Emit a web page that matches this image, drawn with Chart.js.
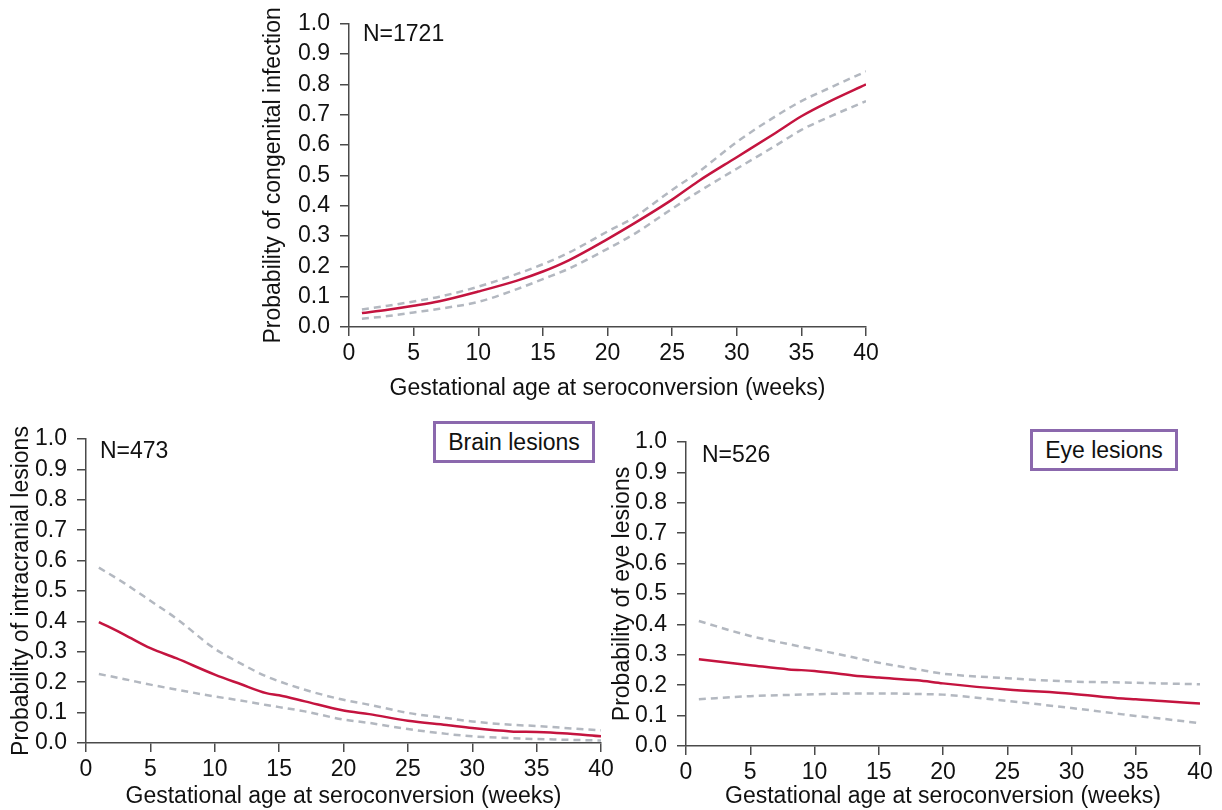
<!DOCTYPE html>
<html>
<head>
<meta charset="utf-8">
<script src="https://cdn.jsdelivr.net/npm/chart.js@4/dist/chart.umd.min.js"></script>
<style>
  body { margin: 0; background: #fff; width: 1222px; height: 810px; position: relative; overflow: hidden; font-family: "Liberation Sans", Arial, sans-serif; }
  canvas { position: absolute; }
  .nlab { position: absolute; font-size: 23px; line-height: 23px; color: #111; }
  .box { position: absolute; box-sizing: border-box; border: 3px solid #8b68ad; font-size: 23px; color: #111;
         display: flex; align-items: center; justify-content: center; background: #fff; }
</style>
</head>
<body>
<canvas id="top" width="640" height="410" style="left:250px;top:0px"></canvas>
<canvas id="brain" width="625" height="395" style="left:0px;top:415px"></canvas>
<canvas id="eye" width="622" height="395" style="left:600px;top:415px"></canvas>

<div class="nlab" style="left:363px;top:22px">N=1721</div>
<div class="nlab" style="left:100px;top:439px">N=473</div>
<div class="nlab" style="left:702px;top:443px">N=526</div>
<div class="box" style="left:433px;top:421px;width:162px;height:42px">Brain lesions</div>
<div class="box" style="left:1030px;top:429px;width:148px;height:42px">Eye lesions</div>

<script>
// congenital infection (top)
const infWeeks = [1, 3, 5, 7, 10, 13, 15, 17, 20, 22, 25, 27, 30, 33, 35, 37, 40];
const infFit   = [0.046, 0.057, 0.070, 0.085, 0.117, 0.153, 0.183, 0.220, 0.290, 0.340, 0.420, 0.480, 0.560, 0.640, 0.695, 0.740, 0.800];
const infUpper = [0.058, 0.070, 0.084, 0.100, 0.133, 0.175, 0.207, 0.245, 0.315, 0.360, 0.452, 0.510, 0.610, 0.695, 0.745, 0.785, 0.843];
const infLower = [0.027, 0.036, 0.048, 0.060, 0.083, 0.125, 0.158, 0.192, 0.258, 0.305, 0.390, 0.445, 0.522, 0.598, 0.650, 0.690, 0.745];

// brain lesions (bottom left)
const brainWeeks = [1, 3, 5, 7, 10, 12, 14, 15, 17, 20, 22, 25, 28, 30, 33, 35, 37, 40];
const brainFit   = [0.398, 0.356, 0.312, 0.279, 0.225, 0.194, 0.164, 0.157, 0.137, 0.107, 0.095, 0.073, 0.059, 0.049, 0.038, 0.036, 0.032, 0.022];
const brainUpper = [0.577, 0.525, 0.468, 0.410, 0.310, 0.262, 0.219, 0.203, 0.175, 0.142, 0.126, 0.099, 0.082, 0.071, 0.060, 0.056, 0.050, 0.042];
const brainLower = [0.227, 0.210, 0.192, 0.176, 0.153, 0.140, 0.125, 0.118, 0.104, 0.077, 0.066, 0.046, 0.030, 0.022, 0.016, 0.013, 0.011, 0.008];

// eye lesions (bottom right)
const eyeWeeks = [1, 5, 8, 10, 13, 15, 18, 20, 25, 30, 34, 35, 37, 40];
const eyeFit   = [0.285, 0.266, 0.252, 0.247, 0.232, 0.225, 0.216, 0.206, 0.186, 0.172, 0.156, 0.154, 0.148, 0.140];
const eyeUpper = [0.411, 0.362, 0.335, 0.318, 0.292, 0.274, 0.252, 0.238, 0.223, 0.212, 0.209, 0.208, 0.206, 0.203];
const eyeLower = [0.154, 0.164, 0.168, 0.170, 0.173, 0.173, 0.171, 0.169, 0.148, 0.125, 0.104, 0.099, 0.090, 0.075];

const xTicks = [0, 5, 10, 15, 20, 25, 30, 35, 40];
const yTicks = [0, 0.1, 0.2, 0.3, 0.4, 0.5, 0.6, 0.7, 0.8, 0.9, 1.0];
const xTitle = 'Gestational age at seroconversion (weeks)';

const FONT = '"Liberation Sans", Arial, sans-serif';
const RED = '#c4143f';
const GREY = '#b3b8c0';
const AXIS = '#4a4a4a';

function pts(xs, ys) {
  return xs.map((x, i) => ({ x: x, y: ys[i] }));
}

function makeChart(id, weeks, fit, upper, lower, yTitle, g) {
  const ctx = document.getElementById(id).getContext('2d');
  const dashed = (data) => ({
    data: pts(weeks, data),
    borderColor: GREY,
    borderWidth: 2.5,
    borderDash: [7, 5],
    pointRadius: 0,
    cubicInterpolationMode: 'monotone',
    fill: false
  });
  return new Chart(ctx, {
    type: 'line',
    data: {
      datasets: [
        dashed(upper),
        dashed(lower),
        {
          data: pts(weeks, fit),
          borderColor: RED,
          borderWidth: 2.5,
          pointRadius: 0,
          cubicInterpolationMode: 'monotone',
          fill: false
        }
      ]
    },
    options: {
      responsive: false,
      animation: false,
      layout: { padding: { top: g.top, right: g.right, left: 0, bottom: 0 } },
      plugins: { legend: { display: false }, tooltip: { enabled: false } },
      scales: {
        x: {
          type: 'linear',
          min: 0,
          max: 40,
          afterBuildTicks: (s) => { s.ticks = xTicks.map(v => ({ value: v })); },
          afterFit: (s) => { s.height = g.xh; },
          border: { display: true, color: AXIS, width: 1.5 },
          grid: { drawOnChartArea: false, drawTicks: true, tickLength: 9, color: AXIS, lineWidth: 1.5 },
          ticks: { color: '#111', font: { family: FONT, size: 23 }, padding: 4, maxRotation: 0, autoSkip: false },
          title: { display: true, text: xTitle, color: '#111', font: { family: FONT, size: 23 }, padding: { top: 0, bottom: g.xtp } }
        },
        y: {
          min: 0,
          max: 1,
          afterBuildTicks: (s) => { s.ticks = yTicks.map(v => ({ value: v })); },
          afterFit: (s) => { s.width = g.yw; },
          border: { display: true, color: AXIS, width: 1.5 },
          grid: { drawOnChartArea: false, drawTicks: true, tickLength: 9, color: AXIS, lineWidth: 1.5 },
          ticks: { color: '#111', font: { family: FONT, size: 23 }, padding: 10, autoSkip: false,
                   callback: (v) => v.toFixed(1) },
          title: { display: true, text: yTitle, color: '#111', font: { family: FONT, size: 23 }, padding: { top: g.ytp, bottom: 0 } }
        }
      }
    }
  });
}

makeChart('top', infWeeks, infFit, infUpper, infLower, 'Probability of congenital infection',
  { top: 22, right: 24, xh: 83, xtp: 8, yw: 99, ytp: 10 });
makeChart('brain', brainWeeks, brainFit, brainUpper, brainLower, 'Probability of intracranial lesions',
  { top: 24, right: 24, xh: 67, xtp: 0, yw: 86, ytp: 8 });
makeChart('eye', eyeWeeks, eyeFit, eyeUpper, eyeLower, 'Probability of eye lesions',
  { top: 27, right: 22, xh: 64, xtp: 0, yw: 86, ytp: 9 });
</script>
</body>
</html>
